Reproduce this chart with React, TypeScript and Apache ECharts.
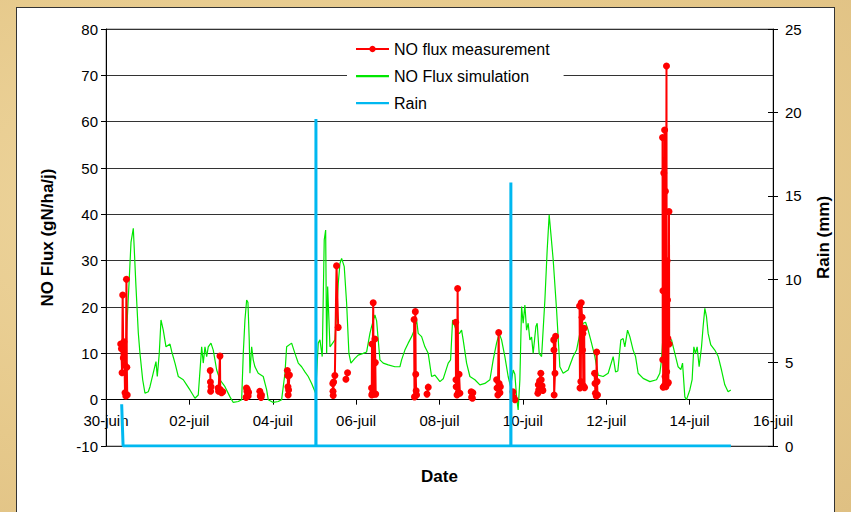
import React, { useEffect, useRef } from "react";
import * as echarts from "echarts";

const dateLabels = ["30-juin", "02-juil", "04-juil", "06-juil", "08-juil", "10-juil", "12-juil", "14-juil", "16-juil"];

// day offset from 30-juin 00:00, NO flux (gN/ha/j)
const simulationPoints: [number, number][] = [
  [0.408, 8], [0.48, 12], [0.552, 25], [0.6, 34], [0.655, 37], [0.719, 24.4], [0.775, 14.4], [0.815, 10], [0.88, 4.3], [0.935, 1.4],
  [1.014, 1.7], [1.055, 2.8], [1.134, 5.8], [1.199, 8.2], [1.23, 5], [1.278, 10], [1.319, 17.2], [1.374, 15], [1.439, 11.4], [1.535, 12],
  [1.576, 10.4], [1.655, 7.9], [1.734, 5], [1.854, 4.3], [1.935, 3.2], [2.014, 2.1], [2.134, 0.3], [2.213, 1], [2.295, 11.4], [2.333, 7.9],
  [2.374, 11.4], [2.415, 9.3], [2.453, 11.4], [2.518, 12.2], [2.573, 10.7], [2.655, 6.4], [2.734, 4.3], [2.854, 2.8], [2.974, 0.6], [3.053, -0.6],
  [3.173, -0.4], [3.254, 0], [3.293, 10], [3.333, 17.2], [3.374, 21.5], [3.405, 21], [3.436, 12.9], [3.453, 5.7], [3.494, 11.4], [3.532, 8.6],
  [3.573, 7.1], [3.652, 5.7], [3.772, 5], [3.854, 2.1], [3.892, 0], [4.012, -0.6], [4.132, -0.4], [4.213, 0], [4.293, 5.7], [4.333, 11.4],
  [4.453, 12.2], [4.532, 10], [4.612, 7.9], [4.693, 7.1], [4.772, 6], [4.851, 5], [4.933, 3.5], [5.029, 1.4], [5.091, 12.2], [5.132, 12.9],
  [5.187, 9.3], [5.235, 34.5], [5.269, 36.6], [5.293, 10], [5.317, 24.4], [5.348, 17.2], [5.372, 11.4], [5.42, 12], [5.492, 12.9], [5.571, 25.1],
  [5.612, 29.4], [5.652, 30.5], [5.715, 28.7], [5.772, 20.8], [5.827, 10], [5.875, 7.9], [5.971, 8.9], [6.05, 9.6], [6.17, 10], [6.252, 10.3],
  [6.331, 14.3], [6.372, 15.8], [6.451, 18.3], [6.492, 17], [6.53, 12.9], [6.571, 8.6], [6.65, 7.9], [6.77, 7.5], [6.93, 7.1], [7.05, 7.1],
  [7.091, 8.6], [7.17, 10.7], [7.249, 12.2], [7.331, 13.6], [7.393, 15], [7.451, 17.2], [7.489, 14.3], [7.571, 13.6], [7.65, 11.4], [7.729, 10],
  [7.81, 5], [7.89, 5.3], [8.01, 3.9], [8.089, 4.5], [8.209, 7.9], [8.266, 8.6], [8.314, 17.2], [8.369, 15.8], [8.424, 14.3], [8.48, 14.3],
  [8.53, 15], [8.568, 12.9], [8.65, 7.9], [8.729, 5], [8.849, 4.3], [8.969, 3.2], [9.089, 3.5], [9.209, 4.3], [9.288, 8.6], [9.369, 12.2],
  [9.432, 14.3], [9.489, 12.9], [9.568, 9.3], [9.647, 5], [9.705, 2.8], [9.767, 6.4], [9.808, 5.5], [9.849, 0.6], [9.887, -2.2], [9.928, 4.3],
  [9.969, 20.1], [10.007, 16.5], [10.048, 20.4], [10.089, 15], [10.127, 16.5], [10.168, 12.9], [10.209, 13.5], [10.247, 10], [10.312, 15.8], [10.343, 16.5],
  [10.391, 10], [10.449, 9.3], [10.528, 21.5], [10.583, 32.3], [10.631, 39.9], [10.671, 35.9], [10.727, 30.2], [10.808, 19.4], [10.887, 7.1], [10.966, 5.7],
  [11.086, 6.4], [11.206, 9.3], [11.288, 10.7], [11.367, 14.3], [11.446, 16.5], [11.504, 16.7], [11.566, 15], [11.647, 12.2], [11.727, 9.3], [11.806, 5.3],
  [11.926, 5], [12.046, 5.7], [12.166, 9.3], [12.223, 6], [12.278, 6.2], [12.35, 12.9], [12.405, 13.2], [12.446, 11.4], [12.511, 15], [12.566, 13.6],
  [12.645, 10.7], [12.703, 9.3], [12.765, 5.7], [12.885, 4.6], [13.046, 3.9], [13.206, 4.3], [13.285, 5.7], [13.326, 8.6], [13.365, 14.3], [13.446, 13.6],
  [13.566, 12.9], [13.645, 10], [13.724, 7.1], [13.789, 6.5], [13.83, 7.9], [13.885, 0.6], [13.925, 0], [14.005, 2.1], [14.06, 4.3], [14.101, 11.4],
  [14.141, 10], [14.18, 11.4], [14.228, 7.1], [14.285, 11.4], [14.324, 15.8], [14.365, 19.7], [14.405, 17.9], [14.444, 14.3], [14.508, 11.8], [14.604, 10.7],
  [14.686, 9.3], [14.765, 6.4], [14.844, 3.2], [14.923, 1.7], [14.988, 2.1],
];

// measurement bursts (each burst is a connected run of points)
const measurementBursts: [number, number][][] = [
  [[0.353, 12], [0.37, 11], [0.385, 5.8], [0.4, 22.6], [0.415, 9], [0.43, 12.5], [0.445, 7.5], [0.456, 1.5], [0.475, 0.8], [0.49, 26], [0.5, 7], [0.51, 1]],
  [[2.5, 6.3], [2.505, 3.8], [2.51, 1.8], [2.52, 2.8]],
  [[2.69, 2.5], [2.7, 1.8], [2.734, 9.4], [2.74, 2.2], [2.77, 1.5], [2.8, 1.7]],
  [[3.36, 0.5], [3.37, 2.5], [3.38, 1.8], [3.39, 2.2], [3.4, 1.2], [3.41, 0.8], [3.42, 1.6]],
  [[3.69, 1.8], [3.7, 0.8], [3.72, 0.5], [3.73, 1.0]],
  [[4.35, 6.3], [4.36, 5.2], [4.365, 2.8], [4.37, 1], [4.38, 2.1], [4.4, 5.3]],
  [[5.44, 3.5], [5.445, 1.8], [5.45, 0.9], [5.46, 3.8], [5.49, 5.2], [5.53, 28.9], [5.57, 15.6]],
  [[5.755, 4.4], [5.795, 5.8]],
  [[6.37, 2.5], [6.375, 1], [6.38, 12], [6.39, 1.4], [6.41, 20.9], [6.42, 1.2], [6.45, 13.1], [6.46, 8], [6.47, 1.2]],
  [[7.39, 17.3], [7.4, 0.6], [7.42, 19], [7.43, 5.5], [7.44, 1.9], [7.45, 1]],
  [[7.7, 1.2], [7.73, 2.7]],
  [[8.39, 16.7], [8.395, 4.3], [8.4, 2.8], [8.42, 1], [8.435, 24], [8.45, 1.5], [8.47, 5.5], [8.49, 1.4]],
  [[8.76, 1.7], [8.77, 0.5], [8.79, 0.3], [8.8, 1.5]],
  [[9.37, 4.3], [9.38, 2.5], [9.4, 1], [9.42, 14.5], [9.43, 3.5], [9.45, 1.5], [9.46, 2.8]],
  [[9.76, 1.7], [9.78, 0.5], [9.81, 0]],
  [[10.36, 1.4], [10.37, 3.2], [10.38, 2.1], [10.4, 4.0], [10.43, 5.7], [10.44, 4.3], [10.46, 3], [10.48, 2]],
  [[10.74, 12.9], [10.745, 10.7], [10.75, 1], [10.77, 5.7], [10.785, 13.7]],
  [[11.36, 20.2], [11.37, 2.5], [11.39, 3.9], [11.4, 20.9], [11.42, 17.8], [11.43, 10.7], [11.44, 14.3], [11.45, 3], [11.47, 15.4], [11.48, 2.6]],
  [[11.72, 5.7], [11.73, 3.5], [11.74, 1.4], [11.76, 0.8], [11.77, 10.3], [11.78, 3.9], [11.79, 1]],
  [[13.35, 56.6], [13.355, 8.6], [13.36, 23.5], [13.365, 2.7], [13.38, 48.9], [13.39, 3], [13.4, 58.2], [13.41, 5], [13.42, 45], [13.43, 2.8],
   [13.445, 72], [13.45, 6], [13.46, 30], [13.47, 21.5], [13.475, 3.5], [13.48, 13.2], [13.49, 3.7], [13.505, 40.6], [13.51, 12]],
];

// rain (mm), right axis
const rainPoints: [number, number][] = [
  [0.376, 2.5], [0.41, 0], [5.034, 0], [5.036, 19.6], [5.038, 0], [9.71, 0], [9.712, 15.8], [9.714, 0], [14.99, 0],
];

const FONT = "'Liberation Sans', Arial, sans-serif";
// plain line legend icon (tiny corner dots keep the bounding box 33x8)
const LINE_ICON = "path://M0,0h0.01v0.01h-0.01zM0,3h33v2.2h-33zM32.99,8h0.01v0.01h-0.01z";

const GRID_TOP = 29;
const GRID_BOTTOM = 66;
const CHART_H = 512;
const Y_MIN = -10;
const Y_MAX = 80;

export default function App() {
  const ref = useRef<HTMLDivElement>(null);

  useEffect(() => {
    if (!ref.current) return;
    const chart = echarts.init(ref.current, undefined, { renderer: "svg" });

    const measurementData: any[] = [];
    measurementBursts.forEach((burst, i) => {
      if (i > 0) {
        const prev = measurementBursts[i - 1];
        measurementData.push([(prev[prev.length - 1][0] + burst[0][0]) / 2, "-"]);
      }
      burst.forEach((p) => measurementData.push(p));
    });

    // move the date axis up to the y = 0 line of the left axis
    const plotH = CHART_H - GRID_TOP - GRID_BOTTOM;
    const zeroOffset = -plotH * (0 - Y_MIN) / (Y_MAX - Y_MIN);

    const tickLabel = { color: "#000", fontSize: 15, fontFamily: FONT };
    const nameStyle = { color: "#000", fontSize: 17, fontWeight: "bold" as const, fontFamily: FONT };

    chart.setOption({
      animation: false,
      backgroundColor: "transparent",
      grid: {
        left: 106, right: 78, top: GRID_TOP, bottom: GRID_BOTTOM,
        outerBoundsMode: "none", containLabel: false,
        show: true, borderColor: "#888", borderWidth: 1, backgroundColor: "transparent",
      },
      legend: {
        orient: "vertical",
        left: 347, top: 35,
        padding: [6, 14, 6, 8],
        itemGap: 11,
        itemWidth: 33, itemHeight: 8,
        backgroundColor: "#fff",
        textStyle: { color: "#000", fontSize: 16, fontFamily: FONT },
        data: [
          { name: "NO flux measurement" },
          { name: "NO Flux simulation", icon: LINE_ICON },
          { name: "Rain", icon: LINE_ICON },
        ],
      },
      xAxis: {
        type: "value", min: 0, max: 16, interval: 2,
        position: "bottom", offset: zeroOffset,
        axisLine: { onZero: false, lineStyle: { color: "#000", width: 1 } },
        axisTick: { show: true, length: 5, lineStyle: { color: "#000" } },
        axisLabel: { ...tickLabel, margin: 13, showMinLabel: true, showMaxLabel: true,
          formatter: (v: number) => dateLabels[Math.round(v / 2)] ?? "" },
        splitLine: { show: false },
        name: "Date", nameLocation: "middle", nameGap: 68, nameTextStyle: nameStyle,
      },
      yAxis: [
        {
          type: "value", min: Y_MIN, max: Y_MAX, interval: 10, position: "left",
          axisLine: { show: true, onZero: false, lineStyle: { color: "#000" } },
          axisTick: { show: true, length: 5, lineStyle: { color: "#000" } },
          axisLabel: { ...tickLabel, margin: 8 },
          splitLine: { show: true, lineStyle: { color: "#333", width: 1 } },
          name: "NO Flux (gN/ha/j)", nameLocation: "middle", nameGap: 50, nameRotate: 90, nameTextStyle: nameStyle,
        },
        {
          type: "value", min: 0, max: 25, interval: 5, position: "right",
          axisLine: { show: true, onZero: false, lineStyle: { color: "#000" } },
          axisTick: { show: true, length: 5, lineStyle: { color: "#000" } },
          axisLabel: { ...tickLabel, margin: 12 },
          splitLine: { show: false },
          name: "Rain (mm)", nameLocation: "middle", nameGap: 42, nameRotate: 90, nameTextStyle: nameStyle,
        },
        {
          type: "value", min: 0, max: 25, interval: 5, position: "right",
          axisLine: { show: false, onZero: false },
          axisTick: { show: true, inside: true, length: 5, lineStyle: { color: "#000" } },
          axisLabel: { show: false },
          splitLine: { show: false },
        },
      ],
      series: [
        {
          name: "NO Flux simulation", type: "line", yAxisIndex: 0,
          data: simulationPoints, showSymbol: false, symbol: "none",
          lineStyle: { color: "#00e600", width: 1.2 }, itemStyle: { color: "#00e600" },
          z: 2,
        },
        {
          name: "NO flux measurement", type: "line", yAxisIndex: 0,
          data: measurementData, connectNulls: false,
          symbol: "circle", symbolSize: 7, showSymbol: true,
          lineStyle: { color: "#ff0000", width: 2 }, itemStyle: { color: "#ff0000" },
          z: 3,
        },
        {
          name: "Rain", type: "line", yAxisIndex: 1,
          data: rainPoints, showSymbol: false, symbol: "none",
          lineStyle: { color: "#00b8f0", width: 3 }, itemStyle: { color: "#00b8f0" },
          z: 4,
        },
      ],
    });

    return () => chart.dispose();
  }, []);

  return (
    <div style={{ position: "fixed", left: 0, top: 0, width: 851, height: 512, overflow: "hidden",
      background: "radial-gradient(ellipse at 30% 40%, #efd7a0 0%, #e6c98b 60%, #dfc083 100%)" }}>
      <div style={{ position: "absolute", left: 16, top: 7, width: 819, height: 520, background: "#fff",
        border: "1px solid #333", boxSizing: "border-box" }} />
      <div ref={ref} style={{ position: "absolute", left: 0, top: 0, width: 851, height: 512 }} />
    </div>
  );
}
